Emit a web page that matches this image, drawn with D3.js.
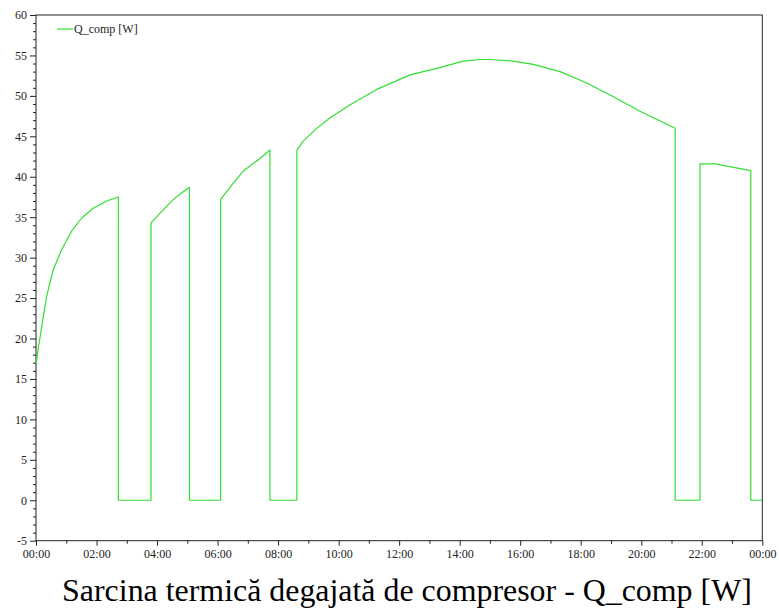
<!DOCTYPE html>
<html>
<head>
<meta charset="utf-8">
<script src="https://cdn.jsdelivr.net/npm/d3@7"></script>
<style>
  html, body { margin: 0; padding: 0; background: #fff; }
  svg { display: block; }
</style>
</head>
<body>
<svg id="chart" width="779" height="614"></svg>
<script>
// Compressor heat load over one day (hours since midnight, watts)
const hours = [0, 0.076, 0.19, 0.35, 0.57, 0.85, 1.18, 1.51, 1.89, 2.34, 2.72, 2.72, 3.80,
  3.80, 4.10, 4.54, 4.81, 5.07, 5.07, 6.10,
  6.10, 6.52, 6.85, 7.35, 7.73, 7.73, 8.62,
  8.62, 8.83, 9.22, 9.72, 10.38, 11.26, 12.36, 13.24, 14.12, 14.67, 15.0, 15.77, 16.43,
  17.32, 18.20, 19.08, 19.96, 21.12, 21.12, 21.94,
  21.94, 22.44, 23.62, 23.62, 24.0];
const qComp = [16.8, 18.8, 21.5, 25.2, 28.5, 31.0, 33.3, 34.9, 36.1, 37.0, 37.5, 0, 0,
  34.3, 35.5, 37.2, 38.0, 38.7, 0, 0,
  37.2, 39.2, 40.7, 42.1, 43.3, 0, 0,
  43.3, 44.4, 45.8, 47.3, 48.9, 50.8, 52.6, 53.4, 54.3, 54.5, 54.5, 54.3, 53.9,
  53.0, 51.6, 49.9, 48.1, 46.0, 0, 0,
  41.6, 41.6, 40.75, 0, 0];

const xTickHours = [0, 2, 4, 6, 8, 10, 12, 14, 16, 18, 20, 22, 24];
const xTickLabels = ["00:00", "02:00", "04:00", "06:00", "08:00", "10:00", "12:00",
  "14:00", "16:00", "18:00", "20:00", "22:00", "00:00"];
const yTicks = [-5, 0, 5, 10, 15, 20, 25, 30, 35, 40, 45, 50, 55, 60];
const seriesName = "Q_comp [W]";
const title = "Sarcina termică degajată de compresor - Q_comp [W]";

const svg = d3.select("#chart");
const m = { left: 36, right: 16.7, top: 15, bottom: 73.3 };
const W = 779, H = 614;
const x = d3.scaleLinear().domain([0, 24]).range([m.left, W - m.right]);
const y = d3.scaleLinear().domain([-5, 60]).range([H - m.bottom, m.top]);

const axisColor = "#222";
const font = "'Liberation Serif', 'Times New Roman', serif";

// frame
svg.append("rect")
  .attr("x", x(0)).attr("y", y(60))
  .attr("width", x(24) - x(0)).attr("height", y(-5) - y(60))
  .attr("fill", "none").attr("stroke", axisColor).attr("stroke-width", 1);

// x axis: major every 2 h, minor every hour
const xMinor = svg.append("g").attr("transform", `translate(0,${y(-5)})`)
  .call(d3.axisBottom(x).tickValues(d3.range(1, 24, 2)).tickSize(3).tickFormat(""));
xMinor.select(".domain").remove();
const xMajor = svg.append("g").attr("transform", `translate(0,${y(-5)})`)
  .call(d3.axisBottom(x).tickValues(xTickHours).tickSize(5)
    .tickFormat((d, i) => xTickLabels[i]).tickPadding(4));
xMajor.select(".domain").remove();
xMajor.attr("font-family", font);
xMajor.selectAll("text").attr("font-size", 12).attr("fill", "#222");

// y axis: major every 5, minor every 1
const yMinor = svg.append("g").attr("transform", `translate(${x(0)},0)`)
  .call(d3.axisLeft(y).tickValues(d3.range(-5, 61, 1).filter(v => v % 5 !== 0))
    .tickSize(3).tickFormat(""));
yMinor.select(".domain").remove();
const yMajor = svg.append("g").attr("transform", `translate(${x(0)},0)`)
  .call(d3.axisLeft(y).tickValues(yTicks).tickSize(6).tickPadding(3)
    .tickFormat(d => String(d)));
yMajor.select(".domain").remove();
yMajor.attr("font-family", font);
yMajor.selectAll("text").attr("font-size", 12).attr("fill", "#222");
svg.selectAll(".tick line").attr("stroke", axisColor);

// series
const pts = hours.map((h, i) => [h, qComp[i]]);
svg.append("path")
  .datum(pts)
  .attr("fill", "none")
  .attr("stroke", "#33dd33")
  .attr("stroke-width", 1.2)
  .attr("stroke-linejoin", "round")
  .attr("d", d3.line().x(d => x(d[0])).y(d => y(d[1])));

// legend
const lg = svg.append("g");
lg.append("line").attr("x1", 57).attr("x2", 73).attr("y1", 29).attr("y2", 29)
  .attr("stroke", "#33dd33").attr("stroke-width", 1.2);
lg.append("text").attr("x", 74).attr("y", 33).text(seriesName)
  .attr("font-family", font).attr("font-size", 12).attr("fill", "#222");

// caption
const t = svg.append("text")
  .attr("x", 407).attr("y", 601)
  .attr("text-anchor", "middle")
  .attr("font-family", font)
  .attr("font-size", 27)
  .attr("fill", "#000")
  .text(title);
const len = t.node().getComputedTextLength();
t.attr("font-size", 27 * 690 / len);
</script>
</body>
</html>
